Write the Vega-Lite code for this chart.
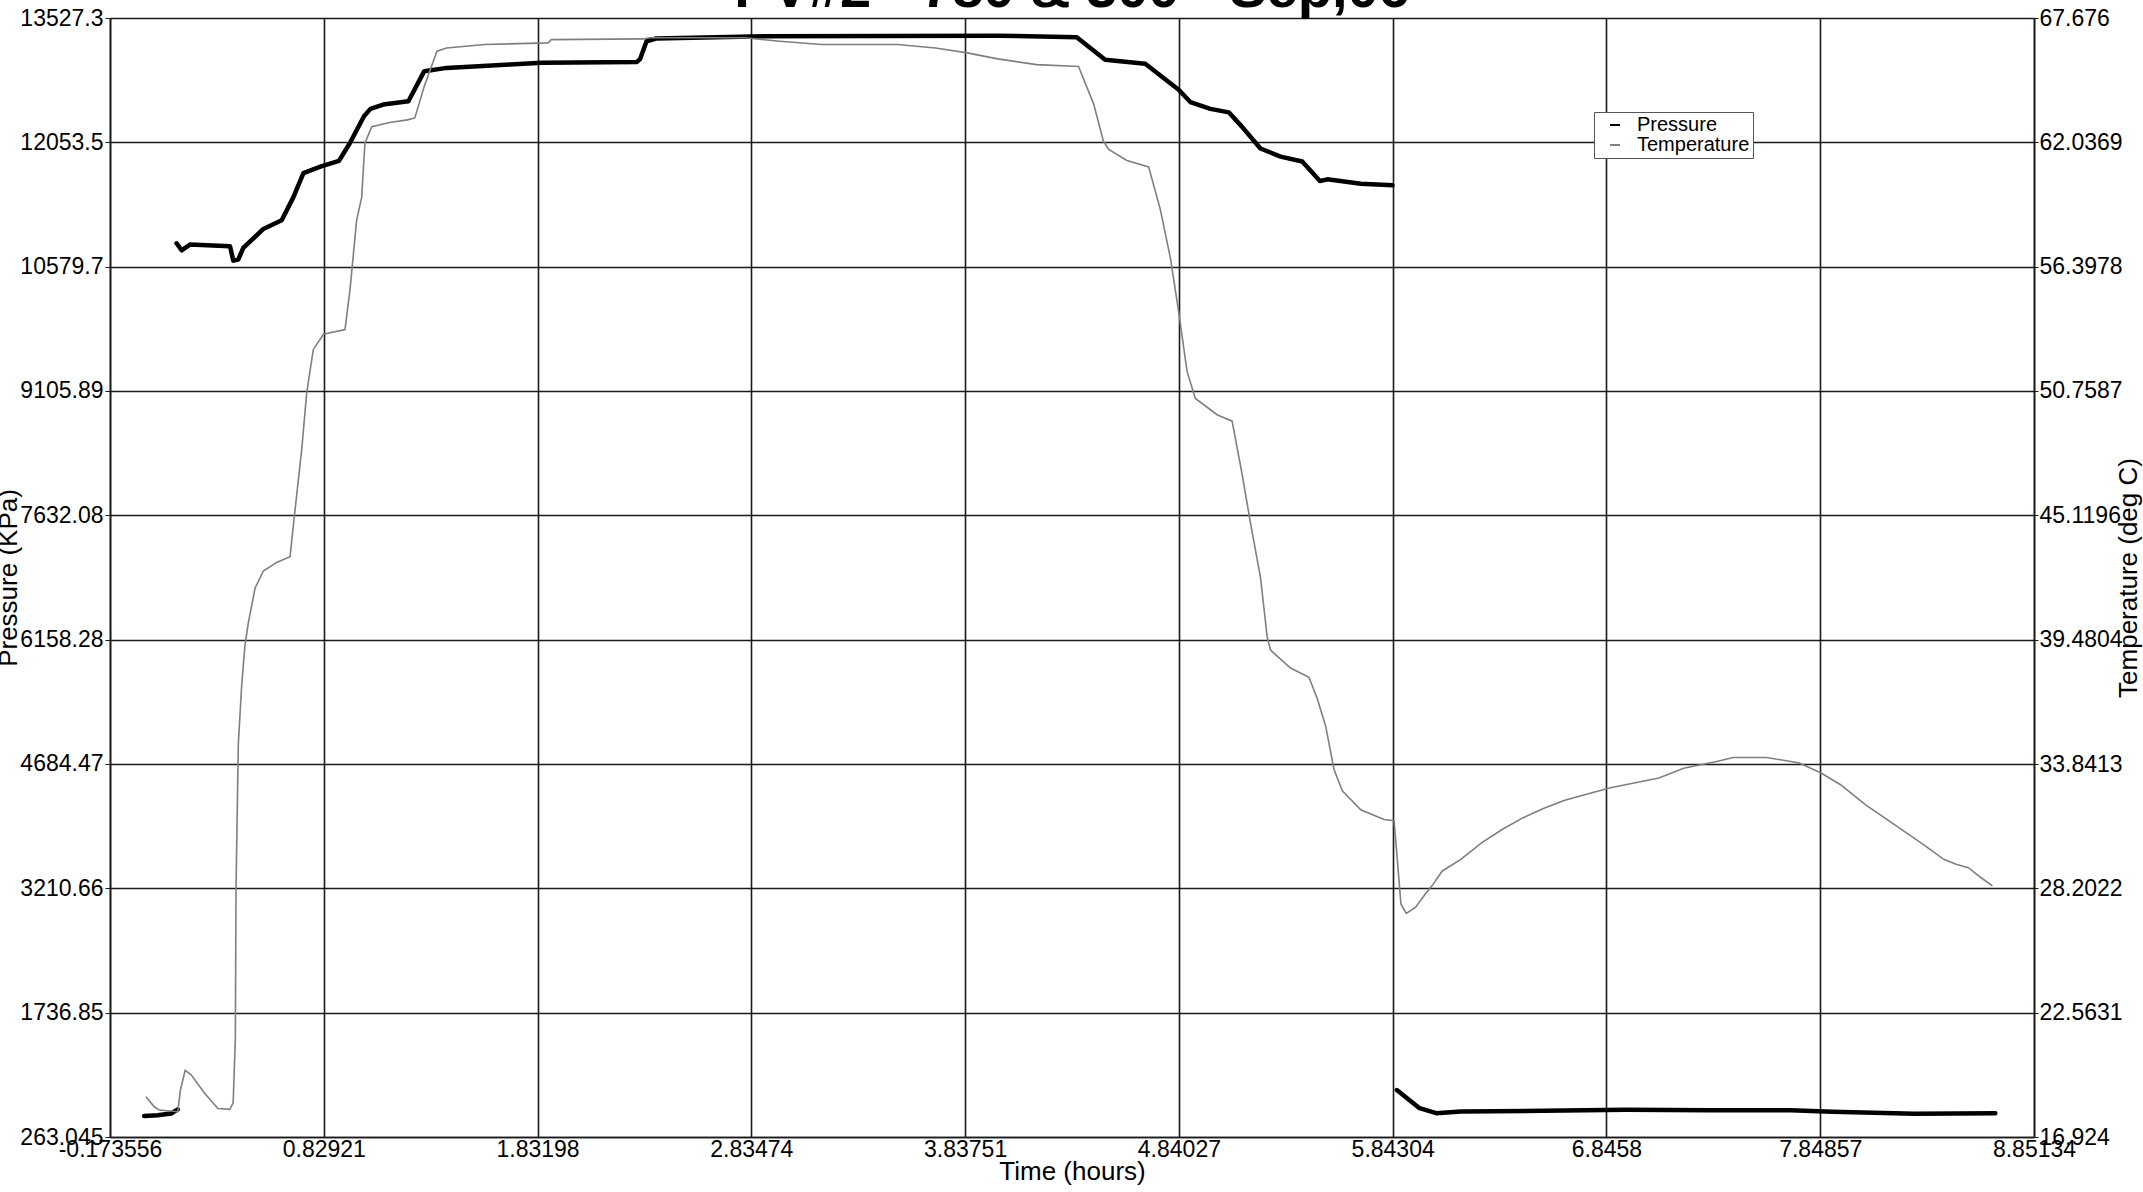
{
  "$schema": "https://vega.github.io/schema/vega-lite/v6.json",
  "width": 1924,
  "height": 1119,
  "autosize": {"type": "none"},
  "padding": {"left": 110, "top": 18, "right": 109, "bottom": 55},
  "background": "white",
  "title": {"text": "PV#2 - 780 & 300 - Sep,06", "fontSize": 56, "fontWeight": "bold", "font": "Liberation Sans", "offset": -12, "anchor": "middle", "frame": "group", "color": "black"},
  "config": {
    "view": {"stroke": null},
    "font": "Liberation Sans",
    "axis": {"labelFont": "Liberation Sans", "titleFont": "Liberation Sans", "labelColor": "black", "titleColor": "black", "labelFontSize": 23, "titleFontSize": 26, "titleFontWeight": "normal", "domainColor": "#1a1a1a", "domainWidth": 1.6, "tickColor": "#1a1a1a", "gridColor": "#1a1a1a", "gridWidth": 1.6, "gridOpacity": 1, "labelOverlap": false}
  },
  "datasets": {
    "pressure": [
      {"t": -0.0133, "pressure": 511, "series": "Pressure", "seg": 1},
      {"t": 0.0496, "pressure": 522, "series": "Pressure", "seg": 1},
      {"t": 0.1131, "pressure": 542, "series": "Pressure", "seg": 1},
      {"t": 0.1445, "pressure": 590, "series": "Pressure", "seg": 1},
      {"t": 0.1387, "pressure": 10857, "series": "Pressure", "seg": 2},
      {"t": 0.1624, "pressure": 10774, "series": "Pressure", "seg": 2},
      {"t": 0.2015, "pressure": 10842, "series": "Pressure", "seg": 2},
      {"t": 0.3894, "pressure": 10823, "series": "Pressure", "seg": 2},
      {"t": 0.4048, "pressure": 10651, "series": "Pressure", "seg": 2},
      {"t": 0.4285, "pressure": 10665, "series": "Pressure", "seg": 2},
      {"t": 0.4516, "pressure": 10802, "series": "Pressure", "seg": 2},
      {"t": 0.5459, "pressure": 11027, "series": "Pressure", "seg": 2},
      {"t": 0.6318, "pressure": 11129, "series": "Pressure", "seg": 2},
      {"t": 0.6863, "pressure": 11401, "series": "Pressure", "seg": 2},
      {"t": 0.7337, "pressure": 11688, "series": "Pressure", "seg": 2},
      {"t": 0.8171, "pressure": 11769, "series": "Pressure", "seg": 2},
      {"t": 0.9005, "pressure": 11834, "series": "Pressure", "seg": 2},
      {"t": 0.9518, "pressure": 12045, "series": "Pressure", "seg": 2},
      {"t": 1.0178, "pressure": 12362, "series": "Pressure", "seg": 2},
      {"t": 1.048, "pressure": 12450, "series": "Pressure", "seg": 2},
      {"t": 1.1076, "pressure": 12501, "series": "Pressure", "seg": 2},
      {"t": 1.2262, "pressure": 12540, "series": "Pressure", "seg": 2},
      {"t": 1.3006, "pressure": 12897, "series": "Pressure", "seg": 2},
      {"t": 1.4051, "pressure": 12936, "series": "Pressure", "seg": 2},
      {"t": 1.7026, "pressure": 12975, "series": "Pressure", "seg": 2},
      {"t": 1.852, "pressure": 12996, "series": "Pressure", "seg": 2},
      {"t": 2.2983, "pressure": 13007, "series": "Pressure", "seg": 2},
      {"t": 2.3136, "pressure": 13043, "series": "Pressure", "seg": 2},
      {"t": 2.3431, "pressure": 13252, "series": "Pressure", "seg": 2},
      {"t": 2.388, "pressure": 13284, "series": "Pressure", "seg": 2},
      {"t": 2.8946, "pressure": 13312, "series": "Pressure", "seg": 2},
      {"t": 3.9911, "pressure": 13317, "series": "Pressure", "seg": 2},
      {"t": 4.3611, "pressure": 13300, "series": "Pressure", "seg": 2},
      {"t": 4.4945, "pressure": 13033, "series": "Pressure", "seg": 2},
      {"t": 4.6823, "pressure": 12984, "series": "Pressure", "seg": 2},
      {"t": 4.8394, "pressure": 12677, "series": "Pressure", "seg": 2},
      {"t": 4.8939, "pressure": 12531, "series": "Pressure", "seg": 2},
      {"t": 4.9882, "pressure": 12450, "series": "Pressure", "seg": 2},
      {"t": 5.0741, "pressure": 12409, "series": "Pressure", "seg": 2},
      {"t": 5.1369, "pressure": 12237, "series": "Pressure", "seg": 2},
      {"t": 5.2228, "pressure": 11980, "series": "Pressure", "seg": 2},
      {"t": 5.3171, "pressure": 11884, "series": "Pressure", "seg": 2},
      {"t": 5.419, "pressure": 11826, "series": "Pressure", "seg": 2},
      {"t": 5.5018, "pressure": 11596, "series": "Pressure", "seg": 2},
      {"t": 5.5364, "pressure": 11615, "series": "Pressure", "seg": 2},
      {"t": 5.6934, "pressure": 11563, "series": "Pressure", "seg": 2},
      {"t": 5.8423, "pressure": 11544, "series": "Pressure", "seg": 2},
      {"t": 5.8627, "pressure": 820, "series": "Pressure", "seg": 3},
      {"t": 5.8916, "pressure": 762, "series": "Pressure", "seg": 3},
      {"t": 5.9692, "pressure": 605, "series": "Pressure", "seg": 3},
      {"t": 6.0468, "pressure": 545, "series": "Pressure", "seg": 3},
      {"t": 6.1628, "pressure": 566, "series": "Pressure", "seg": 3},
      {"t": 6.55, "pressure": 573, "series": "Pressure", "seg": 3},
      {"t": 6.9373, "pressure": 586, "series": "Pressure", "seg": 3},
      {"t": 7.324, "pressure": 579, "series": "Pressure", "seg": 3},
      {"t": 7.7113, "pressure": 579, "series": "Pressure", "seg": 3},
      {"t": 7.905, "pressure": 561, "series": "Pressure", "seg": 3},
      {"t": 8.2923, "pressure": 539, "series": "Pressure", "seg": 3},
      {"t": 8.67, "pressure": 545, "series": "Pressure", "seg": 3}
    ],
    "temperature": [
      {"t": -0.0049, "temperature": 18.753, "series": "Temperature"},
      {"t": 0.0342, "temperature": 18.294, "series": "Temperature"},
      {"t": 0.0579, "temperature": 18.146, "series": "Temperature"},
      {"t": 0.1445, "temperature": 18.071, "series": "Temperature"},
      {"t": 0.1567, "temperature": 19.057, "series": "Temperature"},
      {"t": 0.1791, "temperature": 19.944, "series": "Temperature"},
      {"t": 0.2073, "temperature": 19.745, "series": "Temperature"},
      {"t": 0.2701, "temperature": 18.908, "series": "Temperature"},
      {"t": 0.333, "temperature": 18.22, "series": "Temperature"},
      {"t": 0.3881, "temperature": 18.177, "series": "Temperature"},
      {"t": 0.4042, "temperature": 18.474, "series": "Temperature"},
      {"t": 0.4144, "temperature": 21.389, "series": "Temperature"},
      {"t": 0.4176, "temperature": 28.253, "series": "Temperature"},
      {"t": 0.4285, "temperature": 34.769, "series": "Temperature"},
      {"t": 0.4439, "temperature": 37.38, "series": "Temperature"},
      {"t": 0.4593, "temperature": 39.203, "series": "Temperature"},
      {"t": 0.4753, "temperature": 40.245, "series": "Temperature"},
      {"t": 0.5067, "temperature": 41.813, "series": "Temperature"},
      {"t": 0.5459, "temperature": 42.595, "series": "Temperature"},
      {"t": 0.6081, "temperature": 42.985, "series": "Temperature"},
      {"t": 0.6709, "temperature": 43.246, "series": "Temperature"},
      {"t": 0.694, "temperature": 45.329, "series": "Temperature"},
      {"t": 0.7254, "temperature": 48.07, "series": "Temperature"},
      {"t": 0.7491, "temperature": 50.674, "series": "Temperature"},
      {"t": 0.7799, "temperature": 52.633, "series": "Temperature"},
      {"t": 0.8274, "temperature": 53.334, "series": "Temperature"},
      {"t": 0.9287, "temperature": 53.545, "series": "Temperature"},
      {"t": 0.9524, "temperature": 55.368, "series": "Temperature"},
      {"t": 0.9832, "temperature": 58.499, "series": "Temperature"},
      {"t": 1.0069, "temperature": 59.541, "series": "Temperature"},
      {"t": 1.0223, "temperature": 62.002, "series": "Temperature"},
      {"t": 1.0543, "temperature": 62.746, "series": "Temperature"},
      {"t": 1.1377, "temperature": 62.933, "series": "Temperature"},
      {"t": 1.2211, "temperature": 63.057, "series": "Temperature"},
      {"t": 1.2563, "temperature": 63.143, "series": "Temperature"},
      {"t": 1.3006, "temperature": 64.582, "series": "Temperature"},
      {"t": 1.3602, "temperature": 66.169, "series": "Temperature"},
      {"t": 1.4051, "temperature": 66.318, "series": "Temperature"},
      {"t": 1.584, "temperature": 66.473, "series": "Temperature"},
      {"t": 1.8815, "temperature": 66.548, "series": "Temperature"},
      {"t": 1.8962, "temperature": 66.696, "series": "Temperature"},
      {"t": 2.3284, "temperature": 66.727, "series": "Temperature"},
      {"t": 2.3579, "temperature": 66.777, "series": "Temperature"},
      {"t": 2.8048, "temperature": 66.777, "series": "Temperature"},
      {"t": 2.9683, "temperature": 66.622, "series": "Temperature"},
      {"t": 3.1619, "temperature": 66.473, "series": "Temperature"},
      {"t": 3.5198, "temperature": 66.473, "series": "Temperature"},
      {"t": 3.6987, "temperature": 66.318, "series": "Temperature"},
      {"t": 3.8474, "temperature": 66.095, "series": "Temperature"},
      {"t": 3.9904, "temperature": 65.822, "series": "Temperature"},
      {"t": 4.1725, "temperature": 65.562, "series": "Temperature"},
      {"t": 4.3694, "temperature": 65.475, "series": "Temperature"},
      {"t": 4.4399, "temperature": 63.794, "series": "Temperature"},
      {"t": 4.4867, "temperature": 62.077, "series": "Temperature"},
      {"t": 4.5111, "temperature": 61.711, "series": "Temperature"},
      {"t": 4.5964, "temperature": 61.215, "series": "Temperature"},
      {"t": 4.6983, "temperature": 60.924, "series": "Temperature"},
      {"t": 4.7528, "temperature": 59.008, "series": "Temperature"},
      {"t": 4.8003, "temperature": 56.8, "series": "Temperature"},
      {"t": 4.8394, "temperature": 54.345, "series": "Temperature"},
      {"t": 4.8785, "temperature": 51.647, "series": "Temperature"},
      {"t": 4.9176, "temperature": 50.42, "series": "Temperature"},
      {"t": 5.0195, "temperature": 49.682, "series": "Temperature"},
      {"t": 5.09, "temperature": 49.39, "series": "Temperature"},
      {"t": 5.1368, "temperature": 46.985, "series": "Temperature"},
      {"t": 5.1759, "temperature": 44.777, "series": "Temperature"},
      {"t": 5.2228, "temperature": 42.322, "series": "Temperature"},
      {"t": 5.2542, "temperature": 39.618, "series": "Temperature"},
      {"t": 5.2702, "temperature": 39.004, "series": "Temperature"},
      {"t": 5.3638, "temperature": 38.192, "series": "Temperature"},
      {"t": 5.4504, "temperature": 37.777, "series": "Temperature"},
      {"t": 5.4895, "temperature": 36.797, "series": "Temperature"},
      {"t": 5.5286, "temperature": 35.569, "series": "Temperature"},
      {"t": 5.5677, "temperature": 33.604, "series": "Temperature"},
      {"t": 5.6068, "temperature": 32.624, "series": "Temperature"},
      {"t": 5.6934, "temperature": 31.768, "series": "Temperature"},
      {"t": 5.803, "temperature": 31.322, "series": "Temperature"},
      {"t": 5.8498, "temperature": 31.272, "series": "Temperature"},
      {"t": 5.8819, "temperature": 27.484, "series": "Temperature"},
      {"t": 5.9069, "temperature": 27.062, "series": "Temperature"},
      {"t": 5.9499, "temperature": 27.335, "series": "Temperature"},
      {"t": 5.998, "temperature": 27.967, "series": "Temperature"},
      {"t": 6.0275, "temperature": 28.315, "series": "Temperature"},
      {"t": 6.0756, "temperature": 28.99, "series": "Temperature"},
      {"t": 6.1628, "temperature": 29.517, "series": "Temperature"},
      {"t": 6.2596, "temperature": 30.268, "series": "Temperature"},
      {"t": 6.3564, "temperature": 30.869, "series": "Temperature"},
      {"t": 6.4533, "temperature": 31.396, "series": "Temperature"},
      {"t": 6.55, "temperature": 31.818, "series": "Temperature"},
      {"t": 6.6469, "temperature": 32.184, "series": "Temperature"},
      {"t": 6.7437, "temperature": 32.45, "series": "Temperature"},
      {"t": 6.8598, "temperature": 32.754, "series": "Temperature"},
      {"t": 6.9758, "temperature": 32.977, "series": "Temperature"},
      {"t": 7.0919, "temperature": 33.207, "series": "Temperature"},
      {"t": 7.2079, "temperature": 33.653, "series": "Temperature"},
      {"t": 7.3631, "temperature": 33.957, "series": "Temperature"},
      {"t": 7.4401, "temperature": 34.137, "series": "Temperature"},
      {"t": 7.5952, "temperature": 34.137, "series": "Temperature"},
      {"t": 7.6632, "temperature": 34.031, "series": "Temperature"},
      {"t": 7.7504, "temperature": 33.883, "series": "Temperature"},
      {"t": 7.853, "temperature": 33.43, "series": "Temperature"},
      {"t": 7.944, "temperature": 32.903, "series": "Temperature"},
      {"t": 8.0601, "temperature": 31.998, "series": "Temperature"},
      {"t": 8.1954, "temperature": 31.099, "series": "Temperature"},
      {"t": 8.3313, "temperature": 30.193, "series": "Temperature"},
      {"t": 8.4281, "temperature": 29.517, "series": "Temperature"},
      {"t": 8.4858, "temperature": 29.294, "series": "Temperature"},
      {"t": 8.5435, "temperature": 29.139, "series": "Temperature"},
      {"t": 8.6019, "temperature": 28.693, "series": "Temperature"},
      {"t": 8.6564, "temperature": 28.315, "series": "Temperature"}
    ]
  },
  "layer": [
    {
      "data": {"name": "pressure"},
      "mark": {"type": "line", "strokeWidth": 4.5, "strokeJoin": "round", "strokeCap": "round"},
      "encoding": {
        "x": {"field": "t", "type": "quantitative", "scale": {"domain": [-0.173556, 8.85134], "nice": false, "zero": false},
          "axis": {"title": "Time (hours)", "values": [-0.173556, 0.82921, 1.83198, 2.83474, 3.83751, 4.84027, 5.84304, 6.8458, 7.84857, 8.85134], "labelExpr": "'' + datum.value", "labelFlush": false, "ticks": false, "labelPadding": 1, "grid": true, "titleBaseline": "alphabetic", "titleY": 42}},
        "y": {"field": "pressure", "type": "quantitative", "scale": {"domain": [263.045, 13527.3], "nice": false, "zero": false},
          "axis": {"orient": "left", "title": "Pressure (KPa)", "values": [263.045, 1736.85, 3210.66, 4684.47, 6158.28, 7632.08, 9105.89, 10579.7, 12053.5, 13527.3], "labelExpr": "'' + datum.value", "tickSize": 5, "labelPadding": 2, "grid": true, "titleAngle": 270, "titleX": -94, "titleY": 559.5, "titleBaseline": "alphabetic", "titleAlign": "center"}},
        "color": {"field": "series", "type": "nominal", "scale": {"domain": ["Pressure", "Temperature"], "range": ["#000000", "#7f7f7f"]},
          "legend": {"title": null, "orient": "none", "legendX": 1484, "legendY": 94, "symbolType": "stroke", "symbolSize": 100, "symbolStrokeWidth": 2, "labelFontSize": 20, "labelFont": "Liberation Sans", "labelColor": "black", "padding": 3, "rowPadding": 0, "symbolOffset": 8, "labelOffset": 12, "strokeColor": "#555555", "fillColor": "white"}},
        "detail": {"field": "seg", "type": "nominal"}
      }
    },
    {
      "data": {"name": "temperature"},
      "mark": {"type": "line", "strokeWidth": 1.6},
      "encoding": {
        "x": {"field": "t", "type": "quantitative"},
        "y": {"field": "temperature", "type": "quantitative", "scale": {"domain": [16.924, 67.676], "nice": false, "zero": false},
          "axis": {"orient": "right", "title": "Temperature (deg C)", "values": [16.924, 22.5631, 28.2022, 33.8413, 39.4804, 45.1196, 50.7587, 56.3978, 62.0369, 67.676], "labelExpr": "'' + datum.value", "tickSize": 4, "labelPadding": 1, "grid": false, "titleAngle": 270, "titleX": 102, "titleY": 559.5, "titleBaseline": "alphabetic", "titleAlign": "center"}},
        "color": {"field": "series", "type": "nominal"}
      }
    }
  ],
  "resolve": {"scale": {"y": "independent"}}
}
